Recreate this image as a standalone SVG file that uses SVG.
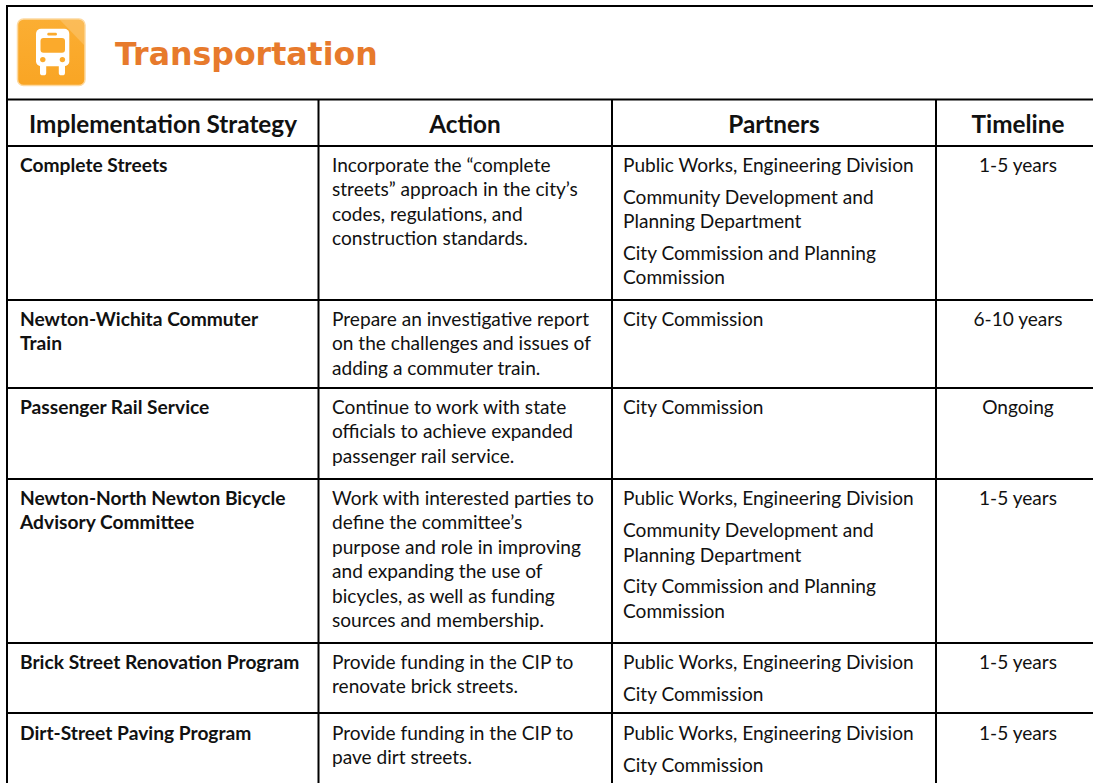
<svg xmlns="http://www.w3.org/2000/svg" width="1093" height="783" viewBox="0 0 1093 783">
<style>
text{font-family:Lato,"Open Sans","Liberation Sans",sans-serif;fill:#111}
.h{font-size:24.3px;font-weight:bold;text-anchor:middle}
.s{font-size:19.2px;font-weight:bold}
.a{font-size:19.1px}
.t{font-size:19.1px;text-anchor:middle}
.title{font-family:"DejaVu Sans",Verdana,sans-serif;font-weight:bold;font-size:31.6px;fill:#E77A2C}
.ln{stroke:#000;stroke-width:2;fill:none}
</style>
<defs>
<linearGradient id="ig" x1="0" y1="0" x2="0" y2="1">
<stop offset="0" stop-color="#FBAE33"/>
<stop offset="1" stop-color="#F9A524"/>
</linearGradient>
</defs>
<rect width="1093" height="783" fill="#fff"/>
<g id="header">
<g id="icon">
<rect x="17.5" y="19" width="67.5" height="66.5" rx="6" fill="url(#ig)" stroke="#FDD9A0" stroke-width="1.5"/>
<path d="M60 20 L79 20 Q84 20 84 25 L84 45 Z" fill="#fff" opacity="0.18"/>
<rect x="36" y="28.7" width="33.3" height="37.6" rx="5" fill="#fff"/>
<rect x="40.5" y="38" width="24.5" height="14.7" rx="3" fill="#FBAA2C"/>
<rect x="47.3" y="32.8" width="9.6" height="2.6" rx="1.2" fill="#FBAA2C"/>
<circle cx="42.8" cy="59.6" r="2.7" fill="#FBAA2C"/>
<circle cx="62.4" cy="59.6" r="2.7" fill="#FBAA2C"/>
<rect x="40" y="63" width="6.2" height="12.3" rx="2.6" fill="#fff"/>
<rect x="58.8" y="63" width="6.2" height="12.3" rx="2.6" fill="#fff"/>
</g>
<text class="title" x="115" y="65">Transportation</text>
</g>
<g id="grid">
<line class="ln" x1="6" y1="6" x2="1093" y2="6"/>
<line class="ln" x1="7" y1="5" x2="7" y2="783"/>
<line class="ln" x1="6" y1="99.5" x2="1093" y2="99.5"/>
<line class="ln" x1="6" y1="146" x2="1093" y2="146"/>
<line class="ln" x1="318.5" y1="99.5" x2="318.5" y2="783"/>
<line class="ln" x1="612" y1="99.5" x2="612" y2="783"/>
<line class="ln" x1="936" y1="99.5" x2="936" y2="783"/>
<line class="ln" x1="6" y1="300" x2="1093" y2="300"/>
<line class="ln" x1="6" y1="388" x2="1093" y2="388"/>
<line class="ln" x1="6" y1="479" x2="1093" y2="479"/>
<line class="ln" x1="6" y1="643" x2="1093" y2="643"/>
<line class="ln" x1="6" y1="713" x2="1093" y2="713"/>
</g>
<g id="col-headers">
<text class="h" x="163" y="133">Implementation Strategy</text>
<text class="h" x="465" y="133">Action</text>
<text class="h" x="774" y="133">Partners</text>
<text class="h" x="1018" y="133">Timeline</text>
</g>
<g id="row1">
<text class="s" x="20" y="172">Complete Streets</text>
<text class="a" x="332" y="172">Incorporate the “complete</text>
<text class="a" x="332" y="196.4">streets” approach in the city’s</text>
<text class="a" x="332" y="220.8">codes, regulations, and</text>
<text class="a" x="332" y="245.2">construction standards.</text>
<text class="a" x="623" y="172">Public Works, Engineering Division</text>
<text class="a" x="623" y="203.5">Community Development and</text>
<text class="a" x="623" y="228">Planning Department</text>
<text class="a" x="623" y="259.5">City Commission and Planning</text>
<text class="a" x="623" y="284">Commission</text>
<text class="t" x="1018" y="172">1-5 years</text>
</g>
<g id="row2">
<text class="s" x="20" y="326">Newton-Wichita Commuter</text>
<text class="s" x="20" y="350.4">Train</text>
<text class="a" x="332" y="326">Prepare an investigative report</text>
<text class="a" x="332" y="350.4">on the challenges and issues of</text>
<text class="a" x="332" y="374.8">adding a commuter train.</text>
<text class="a" x="623" y="326">City Commission</text>
<text class="t" x="1018" y="326">6-10 years</text>
</g>
<g id="row3">
<text class="s" x="20" y="414">Passenger Rail Service</text>
<text class="a" x="332" y="414">Continue to work with state</text>
<text class="a" x="332" y="438.4">officials to achieve expanded</text>
<text class="a" x="332" y="462.8">passenger rail service.</text>
<text class="a" x="623" y="414">City Commission</text>
<text class="t" x="1018" y="414">Ongoing</text>
</g>
<g id="row4">
<text class="s" x="20" y="505">Newton-North Newton Bicycle</text>
<text class="s" x="20" y="529.4">Advisory Committee</text>
<text class="a" x="332" y="505">Work with interested parties to</text>
<text class="a" x="332" y="529.4">define the committee’s</text>
<text class="a" x="332" y="553.8">purpose and role in improving</text>
<text class="a" x="332" y="578.2">and expanding the use of</text>
<text class="a" x="332" y="602.6">bicycles, as well as funding</text>
<text class="a" x="332" y="627">sources and membership.</text>
<text class="a" x="623" y="505">Public Works, Engineering Division</text>
<text class="a" x="623" y="537.3">Community Development and</text>
<text class="a" x="623" y="561.7">Planning Department</text>
<text class="a" x="623" y="593.3">City Commission and Planning</text>
<text class="a" x="623" y="617.7">Commission</text>
<text class="t" x="1018" y="505">1-5 years</text>
</g>
<g id="row5">
<text class="s" x="20" y="669">Brick Street Renovation Program</text>
<text class="a" x="332" y="669">Provide funding in the CIP to</text>
<text class="a" x="332" y="693.4">renovate brick streets.</text>
<text class="a" x="623" y="669">Public Works, Engineering Division</text>
<text class="a" x="623" y="701">City Commission</text>
<text class="t" x="1018" y="669">1-5 years</text>
</g>
<g id="row6">
<text class="s" x="20" y="739.5">Dirt-Street Paving Program</text>
<text class="a" x="332" y="739.5">Provide funding in the CIP to</text>
<text class="a" x="332" y="763.9">pave dirt streets.</text>
<text class="a" x="623" y="739.5">Public Works, Engineering Division</text>
<text class="a" x="623" y="771.5">City Commission</text>
<text class="t" x="1018" y="739.5">1-5 years</text>
</g>
</svg>
